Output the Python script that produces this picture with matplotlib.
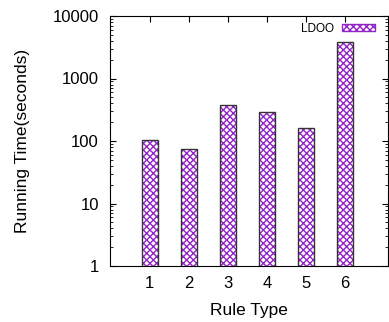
import matplotlib.pyplot as plt
from matplotlib.patches import Patch

plt.rcParams['font.family'] = ['Liberation Sans', 'DejaVu Sans']
plt.rcParams['hatch.linewidth'] = 1.0

rule_types = [1, 2, 3, 4, 5, 6]
running_time = [105, 74, 377, 290, 160, 3800]
series_label = 'LDOO'
purple = '#9424c8'

fig = plt.figure(figsize=(3.89, 3.22), dpi=100)
ax = fig.add_axes([110 / 389, 56 / 322, 278 / 389, 250 / 322])

# hatch layer, then dark outline on top
ax.bar(rule_types, running_time, width=0.4, color='white', edgecolor=purple,
       hatch='xxxxx', linewidth=0, zorder=2)
ax.bar(rule_types, running_time, width=0.4, fill=False, edgecolor='#333333',
       linewidth=1.0, zorder=3)

ax.set_yscale('log')
ax.set_ylim(1, 10000)
ax.set_xlim(-0.02, 7.1)
ax.set_xticks(rule_types)
ax.set_yticks([1, 10, 100, 1000, 10000])
ax.set_yticklabels(['1', '10', '100', '1000', '10000'])
ax.tick_params(which='both', direction='in', top=True, right=True, labelsize=12)
ax.tick_params(which='major', length=4)
ax.tick_params(which='minor', length=2)
ax.tick_params(axis='x', which='minor', bottom=False, top=False)
ax.tick_params(axis='x', pad=7)
ax.tick_params(axis='y', pad=8)

ax.set_xlabel('Rule Type', fontsize=12.5, labelpad=8.5)
ax.set_ylabel('Running Time(seconds)', fontsize=12.5, labelpad=16.5)

handle = Patch(facecolor='white', edgecolor=purple, hatch='xxxxx', linewidth=1)
ax.legend([handle], [series_label], loc='upper right', bbox_to_anchor=(0.99, 1.015),
          frameon=False, markerfirst=False, fontsize=8.5, handlelength=2.8,
          handleheight=0.5, handletextpad=0.6)

fig.savefig('out.png', dpi=100)
